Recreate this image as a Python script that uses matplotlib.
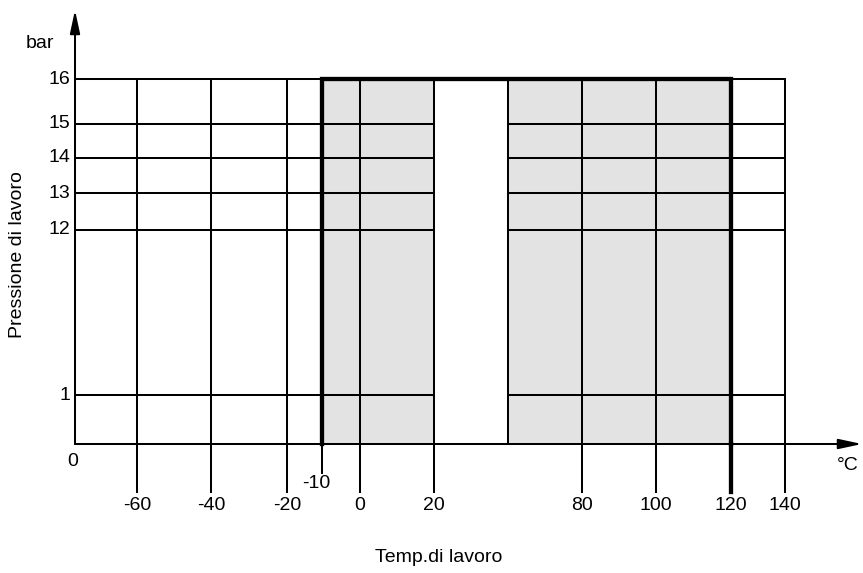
import numpy as np
import matplotlib
matplotlib.use('Agg')
import matplotlib.pyplot as plt

plt.rcParams['font.family'] = ['Liberation Sans', 'DejaVu Sans']

# data
temp_ticks = [-60, -40, -20, 0, 20, 80, 100, 140]
temp_low_tick = -10
temp_max = 120
temp_gap_end = 60          # unlabelled line where the right shaded block starts
press_ticks = [1, 12, 13, 14, 15, 16]
press_max = 16
shade_blocks = [(-10, 20), (60, 120)]   # working ranges in degC

# schematic (non linear) scales of the drawing, in figure pixels
t_knots = [-87, -60, -40, -20, -10, 0, 20, 60, 80, 100, 120, 140]
t_pix = [75, 137, 211, 287, 322, 360, 434, 508, 582, 656, 731, 785]
p_knots = [0, 1, 12, 13, 14, 15, 16]
p_pix = [444, 395, 230, 193, 158, 124, 79]


def tx(t):
    return np.interp(t, t_knots, t_pix)


def py(p):
    return np.interp(p, p_knots, p_pix)


fig = plt.figure(figsize=(8.63, 5.73), dpi=100)
ax = fig.add_axes([0, 0, 1, 1])
ax.set_xlim(0, 863)
ax.set_ylim(573, 0)
ax.axis('off')

x0 = tx(t_knots[0])
y0 = py(0)
xr = tx(140)
ytop = py(press_max)
thin = 1.45
thick = 3.1
grey = '#e3e3e3'

# shaded working area
for a, b in shade_blocks:
    ax.fill_between([tx(a), tx(b)], py(0), py(press_max), color=grey, lw=0, zorder=1)

# horizontal grid lines, broken over the gap 20..60
for p in press_ticks:
    y = py(p)
    if p == press_max:
        ax.plot([x0, xr], [y, y], color='black', lw=thin, zorder=2)
    else:
        ax.plot([x0, tx(20)], [y, y], color='black', lw=thin, zorder=2)
        ax.plot([tx(temp_gap_end), xr], [y, y], color='black', lw=thin, zorder=2)

# vertical grid lines
for t in temp_ticks:
    ax.plot([tx(t), tx(t)], [ytop, y0 + 48], color='black', lw=thin, zorder=2)
ax.plot([tx(temp_gap_end)] * 2, [ytop, y0], color='black', lw=thin, zorder=2)
ax.plot([tx(temp_low_tick)] * 2, [y0, y0 + 29], color='black', lw=thin, zorder=2)

# thick boundary of the working range
ax.plot([tx(temp_low_tick), tx(temp_low_tick), tx(temp_max), tx(temp_max)],
        [y0, ytop, ytop, y0], color='black', lw=thick, zorder=3,
        solid_joinstyle='miter')
ax.plot([tx(temp_max)] * 2, [y0, y0 + 48], color='black', lw=thick, zorder=3)

# axes with arrows
ax.annotate('', xy=(862, y0), xytext=(x0, y0),
            arrowprops=dict(arrowstyle='-|>,head_length=1.4,head_width=0.3',
                            color='black', lw=thin, shrinkA=0, shrinkB=0), zorder=4)
ax.annotate('', xy=(x0, 10), xytext=(x0, y0),
            arrowprops=dict(arrowstyle='-|>,head_length=1.4,head_width=0.3',
                            color='black', lw=thin, shrinkA=0, shrinkB=0), zorder=4)

fs = 14
for t in temp_ticks + [temp_max]:
    ax.text(tx(t), y0 + 62, str(t), ha='center', va='center', fontsize=fs)
ax.text(tx(temp_low_tick) - 6, y0 + 40, str(temp_low_tick), ha='center',
        va='center', fontsize=fs)
for p in press_ticks:
    ax.text(x0 - 5, py(p), str(p), ha='right', va='center', fontsize=fs)
ax.text(x0 - 2, y0 + 18, '0', ha='center', va='center', fontsize=fs)
ax.text(40, 44, 'bar', ha='center', va='center', fontsize=fs)
ax.text(848, 466, '°C', ha='center', va='center', fontsize=fs)
ax.text(439, 558, 'Temp.di lavoro', ha='center', va='center', fontsize=fs)
ax.text(18, 255, 'Pressione di lavoro', ha='center', va='center',
        rotation=90, fontsize=fs)

plt.savefig('out.png', dpi=100)
